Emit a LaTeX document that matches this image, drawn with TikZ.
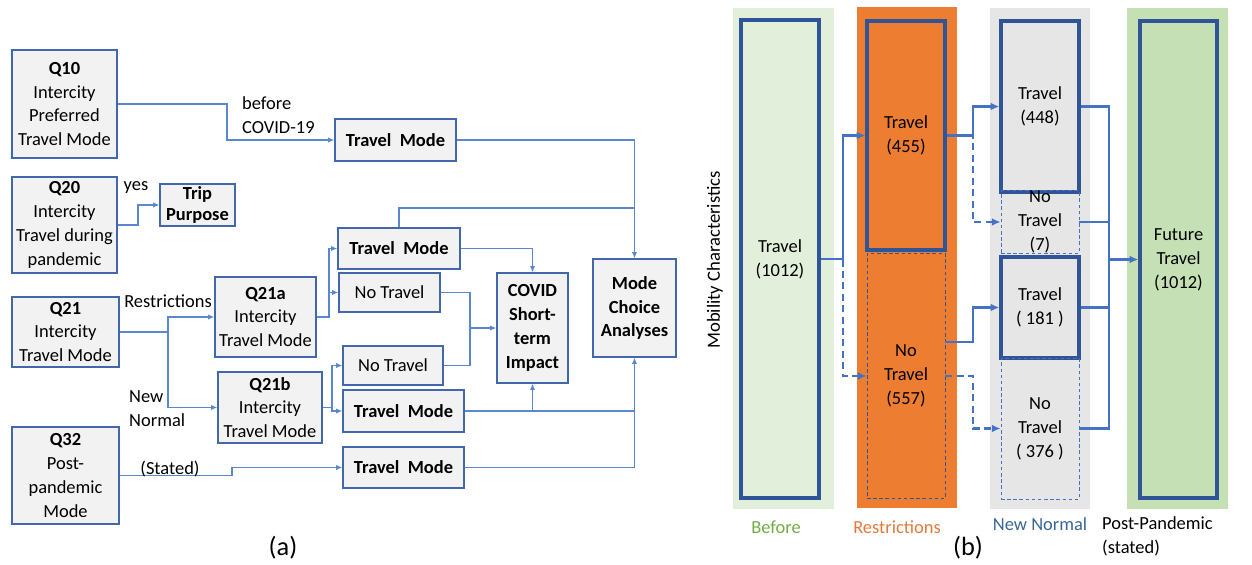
\documentclass[tikz,border=0pt]{standalone}
\usepackage{fontspec}
\setmainfont{Carlito}
\usepackage{xcolor}
\usepackage{tikz}
\usetikzlibrary{positioning,arrows.meta,calc}

\definecolor{boxgray}{HTML}{F2F2F2}
\definecolor{boxblue}{HTML}{4168AA}
\definecolor{lineblue}{HTML}{5B86D0}
\definecolor{darkblue}{HTML}{2F5597}
\definecolor{stageblue}{HTML}{4472C4}
\definecolor{beforebg}{HTML}{E2EFDA}
\definecolor{restrbg}{HTML}{ED7D31}
\definecolor{normalbg}{HTML}{E7E6E6}
\definecolor{postbg}{HTML}{C5E0B4}
\definecolor{beforetxt}{HTML}{70AD47}
\definecolor{restrtxt}{HTML}{E2793A}
\definecolor{normaltxt}{HTML}{3A6595}

\tikzset{
  qbox/.style={draw=boxblue,fill=boxgray,line width=0.8pt,align=center,inner sep=1pt},
  flow/.style={draw=lineblue,line width=0.6pt},
  stage/.style={draw=darkblue,line width=1.9pt,minimum width=1.56cm,align=center,inner sep=0pt},
  nostage/.style={draw=stageblue,line width=0.5pt,dash pattern=on 2pt off 1.5pt,minimum width=1.56cm,align=center,inner sep=0pt},
  bflow/.style={draw=stageblue,line width=1.3pt,>={Latex[length=5pt,width=4.5pt]}},
  bdash/.style={dash pattern=on 4pt off 2.5pt}
}

\begin{document}
\begin{tikzpicture}[x=0.02cm,y=-0.02cm,>={Latex[length=3.5pt,width=3pt]},
  font=\fontsize{10.5}{13.6}\selectfont]
\useasboundingbox (0,0) rectangle (1252,565);

% (a) question boxes
\node[qbox,minimum width=2.1cm,minimum height=2.16cm] (q10) at (64.5,104) {\textbf{Q10}\\Intercity\\Preferred\\Travel Mode};
\node[qbox,minimum width=2.1cm,minimum height=1.92cm] (q20) at (64.5,225) {\textbf{Q20}\\Intercity\\Travel during\\pandemic};
\node[qbox,minimum width=1.5cm,minimum height=0.84cm,font=\fontsize{10.5}{11.5}\selectfont\bfseries] (trip) at (197.5,205) {Trip\\Purpose};
\node[qbox,minimum width=2.14cm,minimum height=1.4cm] (q21) at (65.5,332) {\textbf{Q21}\\Intercity\\Travel Mode};
\node[qbox,minimum width=2.14cm,minimum height=1.94cm] (q32) at (65.5,475.5) {\textbf{Q32}\\Post-\\pandemic\\Mode};
\node[qbox,minimum width=2.02cm,minimum height=1.6cm] (q21a) at (265.5,317) {\textbf{Q21a}\\Intercity\\Travel Mode};
\node[qbox,minimum width=2.08cm,minimum height=1.42cm] (q21b) at (270,407.5) {\textbf{Q21b}\\Intercity\\Travel Mode};

% (a) outcome boxes
\node[qbox,minimum width=2.42cm,minimum height=0.84cm] (tm1) at (395.5,140) {\textbf{Travel~ Mode}};
\node[qbox,minimum width=2.44cm,minimum height=0.82cm] (tm2) at (399,248.5) {\textbf{Travel~ Mode}};
\node[qbox,minimum width=2.02cm,minimum height=0.78cm] (nt1) at (389.5,292.5) {No Travel};
\node[qbox,minimum width=2.0cm,minimum height=0.78cm] (nt2) at (393,365.5) {No Travel};
\node[qbox,minimum width=2.42cm,minimum height=0.84cm] (tm3) at (403.5,411) {\textbf{Travel~ Mode}};
\node[qbox,minimum width=2.42cm,minimum height=0.82cm] (tm4) at (403.5,467.5) {\textbf{Travel~ Mode}};
\node[qbox,minimum width=1.42cm,minimum height=2.2cm] (covid) at (532.5,328) {\textbf{COVID}\\\textbf{Short-}\\\textbf{term}\\\textbf{Impact}};
\node[qbox,minimum width=1.66cm,minimum height=1.96cm] (mode) at (634.5,308) {\textbf{Mode}\\\textbf{Choice}\\\textbf{Analyses}};

% bends
\coordinate (k10) at (227,0);
\coordinate (k20) at (138,0);
\coordinate (k21) at (168,0);
\coordinate (k21a) at (329,0);
\coordinate (k21b) at (332,0);
\coordinate (k32) at (232,0);
\coordinate (top2) at (634.5,208);
\coordinate (jc) at (470,328);

\draw[flow,->] (q10.east) -| (k10 |- tm1.west) -- (tm1.west);
\draw[flow,->] (q20.east) -| (k20 |- trip.west) -- (trip.west);
\draw[flow,->] (q21.east) -| (k21 |- q21a.west) -- (q21a.west);
\draw[flow,->] (q21.east) -| (k21 |- q21b.west) -- (q21b.west);
\draw[flow,->] (q21a.east) -| (k21a |- tm2.west) -- (tm2.west);
\draw[flow,->] (q21a.east) -| (k21a |- nt1.west) -- (nt1.west);
\draw[flow,->] (q21b.east) -| (k21b |- nt2.west) -- (nt2.west);
\draw[flow,->] (q21b.east) -| (k21b |- tm3.west) -- (tm3.west);
\draw[flow,->] (q32.east) -| (k32 |- tm4.west) -- (tm4.west);
\draw[flow,->] (tm1.east) -| (mode.north);
\draw[flow] (tm2.north) |- (top2);
\draw[flow,->] (tm2.east) -| (covid.north);
\draw[flow,->] (nt1.east) -| (jc) -- (covid.west);
\draw[flow] (nt2.east) -| (jc);
\draw[flow,->] (tm3.east) -| (mode.south);
\draw[flow,->] (tm3.east -| covid.south) -- (covid.south);
\draw[flow] (tm4.east) -| (tm3.east -| mode.south);

% (a) labels
\node[anchor=west,align=left] (lbefore) at (236,115) {before\\COVID-19};
\node (lyes) at (136,188) {yes};
\node (lrestr) at (168,301) {Restrictions};
\node[anchor=west,align=left] (lnew) at (123,409) {New\\Normal};
\node (lstated) at (170,469) {(Stated)};
\node[font=\fontsize{15}{17}\selectfont] (la) at (283,548) {(a)};

% (b) stage backgrounds
\fill[beforebg] (733,8) rectangle (834,509);
\fill[restrbg] (857,7) rectangle (957,508);
\fill[normalbg] (990,8) rectangle (1090,509);
\fill[postbg] (1127,8) rectangle (1228,509);

% (b) stage boxes
\node[stage,minimum height=9.56cm] (before) at (780,259) {Travel\\(1012)};
\node[stage,minimum height=4.58cm] (t455) at (906,135.5) {Travel\\(455)};
\node[nostage,draw=darkblue,minimum height=4.9cm] (nt557) at (906,376) {No\\Travel\\(557)};
\node[stage,minimum height=3.42cm] (t448) at (1040,106.5) {Travel\\(448)};
\node[nostage,minimum height=1.2cm] (nt7) at (1040,222) {No\\Travel\\(7)};
\node[stage,minimum height=2.02cm] (t181) at (1040,307.5) {Travel\\( 181 )};
\node[nostage,minimum height=2.82cm] (nt376) at (1040,428.5) {No\\Travel\\( 376 )};
\node[stage,minimum width=1.54cm,minimum height=9.54cm] (ft) at (1178.5,259.5) {Future\\Travel\\(1012)};

% (b) flows
\coordinate (kb) at (843,0);
\coordinate (kr) at (973,0);
\coordinate (kn) at (1109,0);
\draw[bflow,->] (before.east) -| (kb |- t455.west) -- (t455.west);
\draw[bflow,bdash,->] (before.east) -| (kb |- nt557.west) -- (nt557.west);
\draw[bflow,->] (t455.east) -| (kr |- t448.west) -- (t448.west);
\draw[bflow,bdash,->] (t455.east) -| (kr |- nt7.west) -- (nt7.west);
\draw[bflow,->] ([yshift=0.68cm]nt557.east) -| (kr |- t181.west) -- (t181.west);
\draw[bflow,bdash,->] (nt557.east) -| (kr |- nt376.west) -- (nt376.west);
\draw[bflow] (t448.east) -| (kn |- nt376.east) -- (nt376.east);
\draw[bflow] (nt7.east) -- (nt7.east -| kn);
\draw[bflow] (t181.east) -- (t181.east -| kn);
\draw[bflow,line width=2pt,->] (kn |- ft.west) -- (ft.west);

% (b) labels
\node[rotate=90,font=\fontsize{10.6}{12}\selectfont] (lmob) at (715,260) {Mobility Characteristics};
\node[text=beforetxt] (lbef) at (776,527) {Before};
\node[text=restrtxt] (lres) at (897,527) {Restrictions};
\node[text=normaltxt] (lnn) at (1040,524) {New Normal};
\node[anchor=west,align=left] (lpost) at (1096,536) {Post-Pandemic\\(stated)};
\node[font=\fontsize{15}{17}\selectfont] (lb) at (968,548) {(b)};
\end{tikzpicture}
\end{document}
